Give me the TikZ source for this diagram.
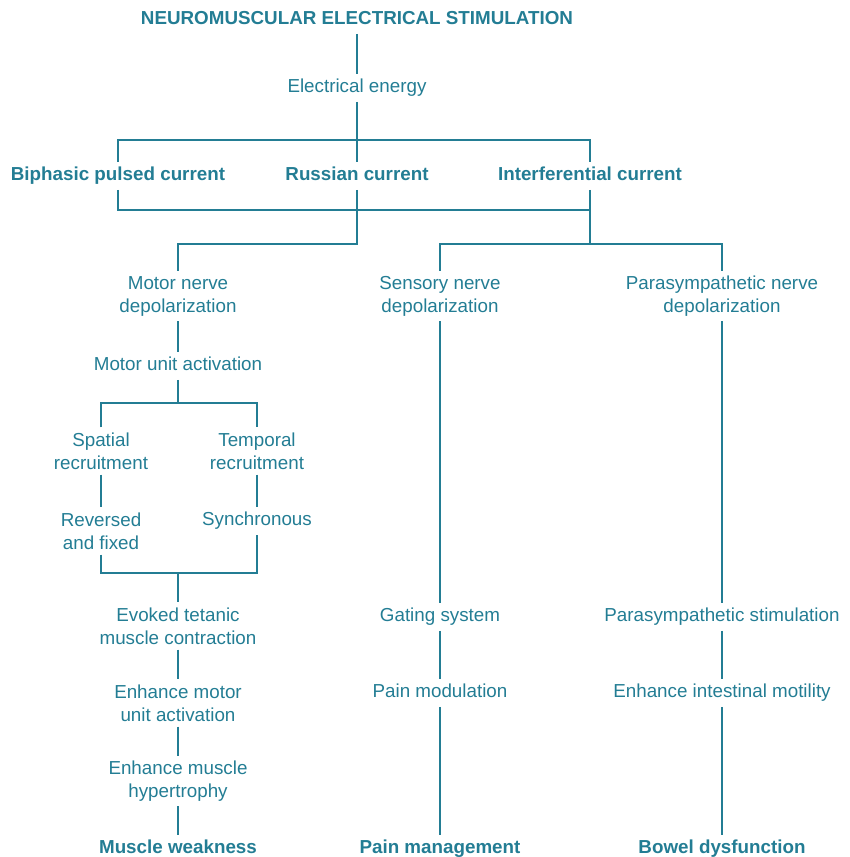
\documentclass[tikz,border=0pt]{standalone}
\usepackage{fontspec}
\setmainfont{Liberation Sans}
\definecolor{tealc}{RGB}{35,125,148}
\begin{document}
\begin{tikzpicture}[x=1pt,y=-1pt,
  lbl/.style={text=tealc, align=center, inner sep=0pt, font=\fontsize{18.8}{23}\selectfont},
  one/.style={text height=13.5pt, text depth=4pt},
  blbl/.style={lbl, one, font=\fontsize{18.8}{23}\selectfont\bfseries},
  conn/.style={draw=tealc, line width=1.3pt, shorten <=5pt, shorten >=5pt},
  half/.style={draw=tealc, line width=1.3pt, shorten <=5pt}]
\useasboundingbox (0,0) rectangle (849,857);
% nodes
\node[blbl] (title) at (357,20) {NEUROMUSCULAR ELECTRICAL STIMULATION};
\node[lbl, one] (ee) at (357,88) {Electrical energy};
\node[blbl] (bp) at (118,176) {Biphasic pulsed current};
\node[blbl] (rc) at (357,176) {Russian current};
\node[blbl] (ic) at (590,176) {Interferential current};
\node[lbl] (mnd) at (178,296) {Motor nerve\\depolarization};
\node[lbl] (snd) at (440,296) {Sensory nerve\\depolarization};
\node[lbl] (pnd) at (722,296) {Parasympathetic nerve\\depolarization};
\node[lbl, one] (mua) at (178,366) {Motor unit activation};
\node[lbl] (sr) at (101,451) {Spatial\\recruitment};
\node[lbl] (tr) at (257,451) {Temporal\\recruitment};
\node[lbl] (rf) at (101,531) {Reversed\\and fixed};
\node[lbl, one] (syn) at (257,521) {Synchronous};
\node[lbl] (etc) at (178,626) {Evoked tetanic\\muscle contraction};
\node[lbl] (emu) at (178,703) {Enhance motor\\unit activation};
\node[lbl] (emh) at (178,781) {Enhance muscle\\hypertrophy};
\node[blbl] (mw) at (178,849) {Muscle weakness};
\node[lbl, one] (gs) at (440,617) {Gating system};
\node[lbl, one] (pm) at (440,693) {Pain modulation};
\node[blbl] (pmg) at (440,849) {Pain management};
\node[lbl, one] (ps) at (722,617) {Parasympathetic stimulation};
\node[lbl, one] (eim) at (722,693) {Enhance intestinal motility};
\node[blbl] (bd) at (722,849) {Bowel dysfunction};
% bus coordinates
\coordinate (tb) at (0,140);
\coordinate (bb) at (0,210);
\coordinate (lb) at (0,244);
\coordinate (rb) at (0,244);
\coordinate (b3) at (0,403);
\coordinate (b4) at (0,573);
% connectors
\draw[conn] (title.south) -- (ee.north);
\draw[conn] (ee.south) -- (rc.north);
\draw[conn] (bp.north) -- (bp.north |- tb) -- (ic.north |- tb) -- (ic.north);
\draw[conn] (bp.south) -- (bp.south |- bb) -- (ic.south |- bb) -- (ic.south);
\draw[conn] (rc.south) -- (rc.south |- lb) -| (mnd.north);
\draw[half] (ic.south) -- (ic.south |- rb);
\draw[conn] (snd.north) -- (snd.north |- rb) -- (pnd.north |- rb) -- (pnd.north);
\draw[conn] (mnd.south) -- (mua.north);
\draw[half] (mua.south) -- (mua.south |- b3);
\draw[conn] (sr.north) -- (sr.north |- b3) -- (tr.north |- b3) -- (tr.north);
\draw[conn] (sr.south) -- (rf.north);
\draw[conn] (tr.south) -- (syn.north);
\draw[conn] (rf.south) -- (rf.south |- b4) -- (syn.south |- b4) -- (syn.south);
\draw[conn, shorten <=0pt] (etc.north |- b4) -- (etc.north);
\draw[conn] (etc.south) -- (emu.north);
\draw[conn] (emu.south) -- (emh.north);
\draw[conn] (emh.south) -- (mw.north);
\draw[conn] (snd.south) -- (gs.north);
\draw[conn] (gs.south) -- (pm.north);
\draw[conn] (pm.south) -- (pmg.north);
\draw[conn] (pnd.south) -- (ps.north);
\draw[conn] (ps.south) -- (eim.north);
\draw[conn] (eim.south) -- (bd.north);
\end{tikzpicture}
\end{document}
